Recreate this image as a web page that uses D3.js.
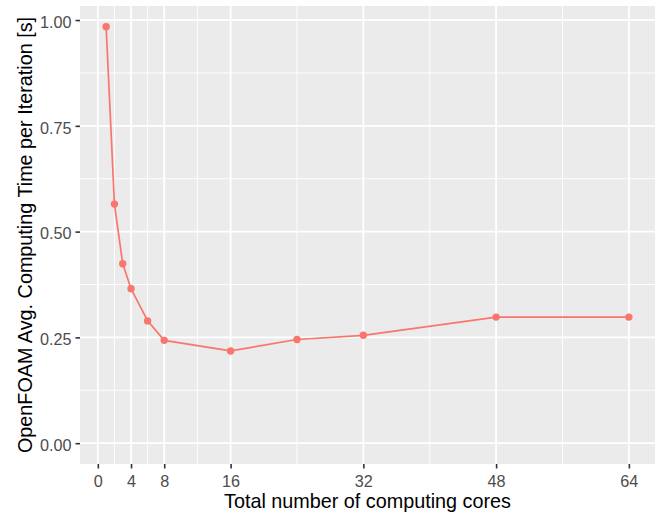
<!DOCTYPE html>
<html>
<head>
<meta charset="utf-8">
<script src="https://cdn.jsdelivr.net/npm/d3@7"></script>
<style>
  html, body { margin: 0; padding: 0; background: #fff; }
  svg { display: block; font-family: "Liberation Sans", Arial, Helvetica, sans-serif; }
</style>
</head>
<body>
<svg id="chart" width="658" height="519"></svg>
<script>
// Scaling benchmark: cores vs. average time per iteration
const cores = [1, 2, 3, 4, 6, 8, 16, 24, 32, 48, 64];
const timePerIter = [0.984, 0.565, 0.424, 0.365, 0.289, 0.243, 0.218, 0.245, 0.255, 0.298, 0.298];
const xTicks = [0, 4, 8, 16, 32, 48, 64];
const xMinor = [2, 6, 12, 24, 40, 56];
const yTicks = [0, 0.25, 0.5, 0.75, 1.0];
const yMinor = [0.125, 0.375, 0.625, 0.875];

const panel = { left: 80, right: 655, top: 6, bottom: 464 };
const lineColor = "#F8766D";
const tickFont = 16.2;
const titleFont = 19.8;

const svg = d3.select("#chart");

// ggplot-like 5% expansion of the data range (y range includes 0)
const xr = d3.extent(cores);
const xPad = (xr[1] - xr[0]) * 0.05;
const yMax = d3.max(timePerIter);
const yPad = yMax * 0.05;

const x = d3.scaleLinear().domain([xr[0] - xPad, xr[1] + xPad]).range([panel.left, panel.right]);
const y = d3.scaleLinear().domain([0 - yPad, yMax + yPad]).range([panel.bottom, panel.top]);

// panel background
svg.append("rect")
  .attr("x", panel.left).attr("y", panel.top)
  .attr("width", panel.right - panel.left).attr("height", panel.bottom - panel.top)
  .attr("fill", "#EBEBEB");

const grid = svg.append("g");
// minor grid
grid.selectAll(".ymin").data(yMinor).join("line")
  .attr("x1", panel.left).attr("x2", panel.right)
  .attr("y1", d => y(d)).attr("y2", d => y(d))
  .attr("stroke", "#fff").attr("stroke-width", 0.9);
grid.selectAll(".xmin").data(xMinor).join("line")
  .attr("y1", panel.top).attr("y2", panel.bottom)
  .attr("x1", d => x(d)).attr("x2", d => x(d))
  .attr("stroke", "#fff").attr("stroke-width", 0.9);
// major grid
grid.selectAll(".ymaj").data(yTicks).join("line")
  .attr("x1", panel.left).attr("x2", panel.right)
  .attr("y1", d => y(d)).attr("y2", d => y(d))
  .attr("stroke", "#fff").attr("stroke-width", 1.8);
grid.selectAll(".xmaj").data(xTicks).join("line")
  .attr("y1", panel.top).attr("y2", panel.bottom)
  .attr("x1", d => x(d)).attr("x2", d => x(d))
  .attr("stroke", "#fff").attr("stroke-width", 1.8);

// axes
const xAxis = svg.append("g")
  .attr("transform", `translate(0,${panel.bottom})`)
  .call(d3.axisBottom(x).tickValues(xTicks).tickSize(4.5).tickPadding(6.5).tickFormat(d3.format("d")));
const yAxis = svg.append("g")
  .attr("transform", `translate(${panel.left},0)`)
  .call(d3.axisLeft(y).tickValues(yTicks).tickSize(4.5).tickPadding(4).tickFormat(d3.format(".2f")));
[xAxis, yAxis].forEach(a => {
  a.select(".domain").remove();
  a.selectAll(".tick line").attr("stroke", "#333").attr("stroke-width", 1.6);
  a.selectAll(".tick text").attr("fill", "#4D4D4D").attr("font-size", tickFont)
    .attr("font-family", "'Liberation Sans', Arial, sans-serif");
});
yAxis.selectAll(".tick text").attr("dy", "0.45em");

// data line and points
const line = d3.line().x((d, i) => x(cores[i])).y(d => y(d));
svg.append("path").datum(timePerIter)
  .attr("d", line).attr("fill", "none")
  .attr("stroke", lineColor).attr("stroke-width", 1.7);
svg.append("g").selectAll("circle").data(timePerIter).join("circle")
  .attr("cx", (d, i) => x(cores[i])).attr("cy", d => y(d))
  .attr("r", 3.7).attr("fill", lineColor);

// axis titles
svg.append("text")
  .attr("x", (panel.left + panel.right) / 2).attr("y", 508.3)
  .attr("text-anchor", "middle").attr("font-size", titleFont).attr("fill", "#000")
  .text("Total number of computing cores");
svg.append("text")
  .attr("transform", `translate(31.5,${(panel.top + panel.bottom) / 2}) rotate(-90)`)
  .attr("text-anchor", "middle").attr("font-size", titleFont).attr("fill", "#000")
  .text("OpenFOAM Avg. Computing Time per Iteration [s]");
</script>
</body>
</html>
